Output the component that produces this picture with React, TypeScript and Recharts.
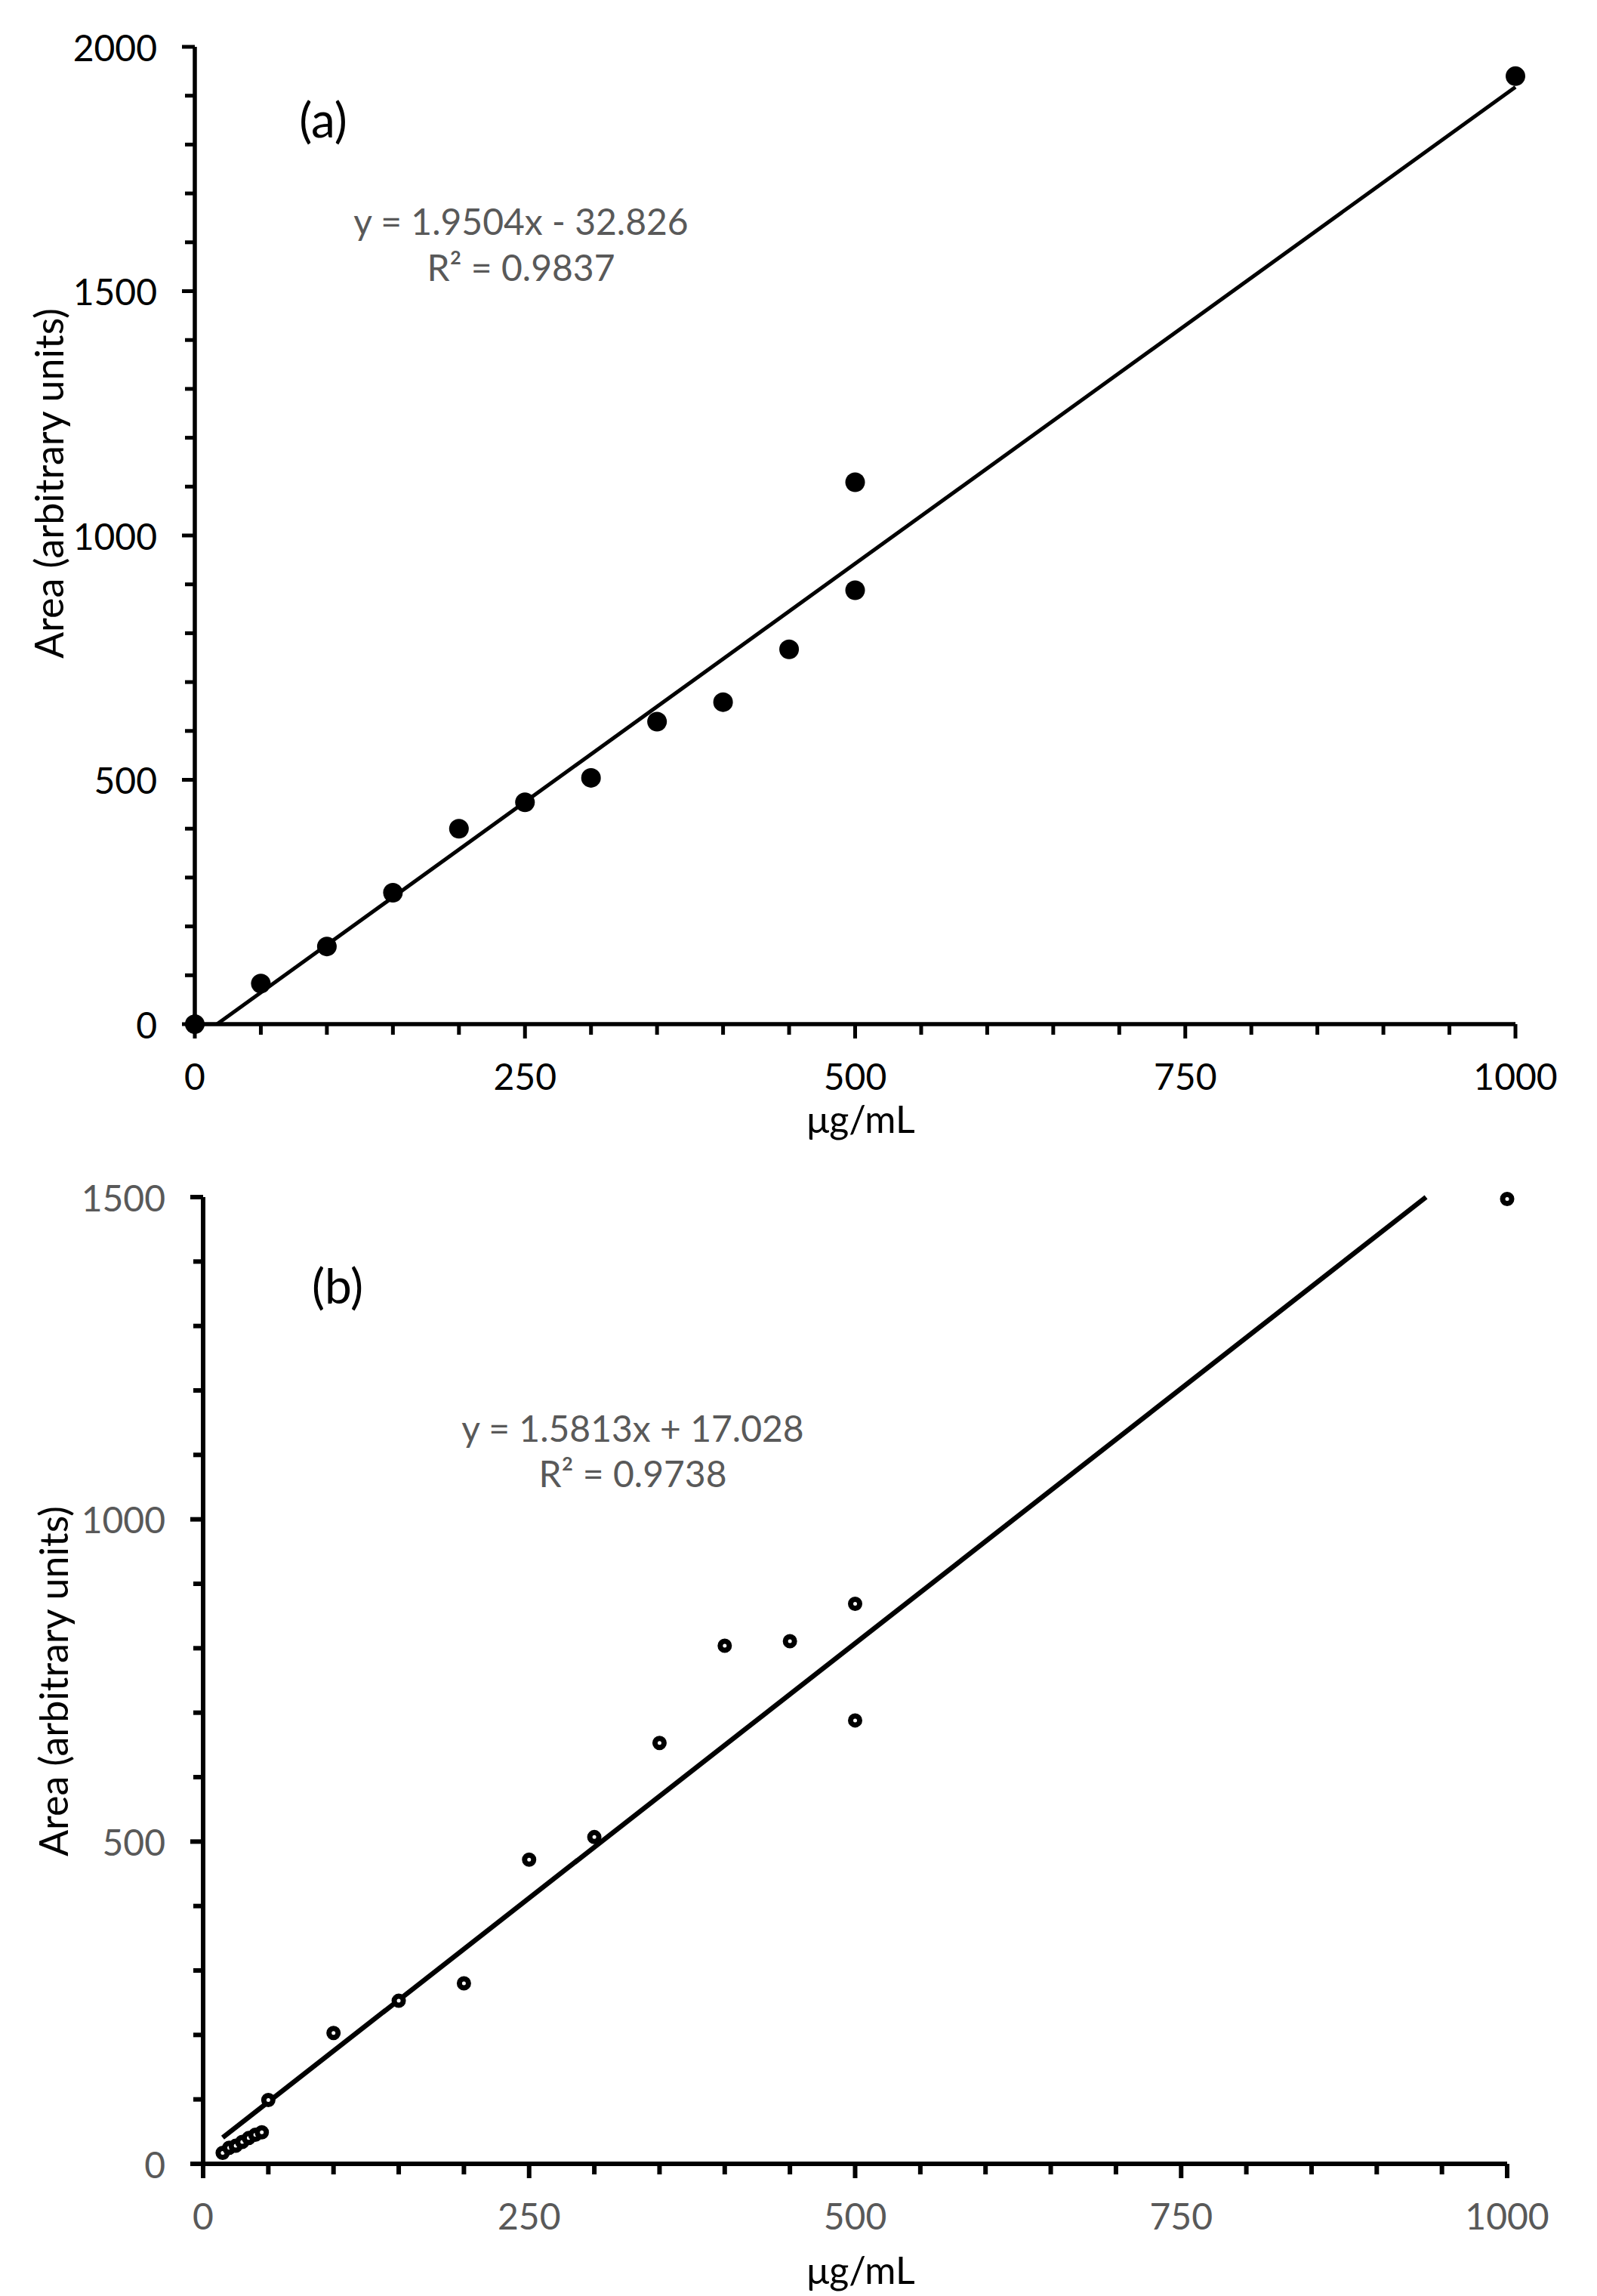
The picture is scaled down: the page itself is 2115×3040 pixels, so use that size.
import React from "react";
import { ScatterChart, Scatter, XAxis, YAxis } from "recharts";

// panel (a): filled points
const concA = [0, 50, 100, 150, 200, 250, 300, 350, 400, 450, 500, 500, 1000];
const areaA = [0, 83, 159, 269, 400, 454, 504, 619, 659, 767, 1109, 888, 1940];
// Excel trendline end points (y = 1.9504x - 32.826, clipped at y = 0)
const trendConcA = [16.8, 1000];
const trendAreaA = [0, 1917.6];

// panel (b): hollow points
const concB = [15, 20, 25, 30, 35, 40, 45, 50, 100, 150, 200, 250, 300, 350, 400, 450, 500, 500, 1000];
const areaB = [17, 25, 28, 34, 40, 45, 49, 99, 203, 253, 280, 472, 507, 653, 804, 811, 869, 688, 1497];
// trendline y = 1.5813x + 17.028, clipped at the top of the axis
const trendConcB = [15, 937.8];
const trendAreaB = [40.7, 1500];

const xTicks = [0, 50, 100, 150, 200, 250, 300, 350, 400, 450, 500, 550, 600, 650, 700, 750, 800, 850, 900, 950, 1000];
const xLabels = [0, 250, 500, 750, 1000];
const yTicksA = [0, 100, 200, 300, 400, 500, 600, 700, 800, 900, 1000, 1100, 1200, 1300, 1400, 1500, 1600, 1700, 1800, 1900, 2000];
const yLabelsA = [0, 500, 1000, 1500, 2000];
const yTicksB = [0, 100, 200, 300, 400, 500, 600, 700, 800, 900, 1000, 1100, 1200, 1300, 1400, 1500];
const yLabelsB = [0, 500, 1000, 1500];

const FONT = "Lato, 'Open Sans', sans-serif";
const zip = (xs: number[], ys: number[]) => xs.map((x, i) => ({ x, y: ys[i] }));

function yTick(labels: number[], color: string, sw: number) {
  return (props: any) => {
    const { x, y, payload } = props;
    const major = labels.includes(payload.value);
    return (
      <g>
        <line x1={x - (major ? 17 : 13)} x2={x} y1={y} y2={y} stroke="#000" strokeWidth={sw} />
        {major && (
          <text x={x - 50} y={y} textAnchor="end" dominantBaseline="central" fill={color} fontSize={48} fontFamily={FONT}>
            {payload.value}
          </text>
        )}
      </g>
    );
  };
}

function xTick(labels: number[], color: string, sw: number) {
  return (props: any) => {
    const { x, y, payload } = props;
    const major = labels.includes(payload.value);
    return (
      <g>
        <line x1={x} x2={x} y1={y} y2={y + (major ? 19 : 14)} stroke="#000" strokeWidth={sw} />
        {major && (
          <text x={x} y={y + 68} textAnchor="middle" dominantBaseline="central" fill={color} fontSize={48} fontFamily={FONT}>
            {payload.value}
          </text>
        )}
      </g>
    );
  };
}

const Overlay = ({ x, y, size = 48, color = "#000", rotate = false, children }: any) => (
  <div
    style={{
      position: "absolute",
      left: x,
      top: y,
      transform: `translate(-50%, -50%)${rotate ? " rotate(-90deg)" : ""}`,
      whiteSpace: "nowrap",
      fontSize: size,
      lineHeight: 1,
      color,
      fontFamily: FONT,
    }}
  >
    {children}
  </div>
);

export default function App() {
  return (
    <div style={{ position: "absolute", left: 0, top: 0, width: 2115, height: 3040, background: "#fff", fontFamily: FONT }}>
      {/* (a) */}
      <div style={{ position: "absolute", left: 0, top: 0 }}>
        <ScatterChart width={2115} height={1520} margin={{ top: 62, right: 108, left: 0, bottom: 44 }}>
          <XAxis
            type="number"
            dataKey="x"
            domain={[0, 1000]}
            ticks={xTicks}
            interval={0}
            height={120}
            tickSize={0}
            tickMargin={0}
            axisLine={{ stroke: "#000", strokeWidth: 5.5 }}
            tickLine={false}
            tick={xTick(xLabels, "#000", 5)}
          />
          <YAxis
            type="number"
            dataKey="y"
            domain={[0, 2000]}
            ticks={yTicksA}
            interval={0}
            width={258}
            tickSize={0}
            tickMargin={0}
            axisLine={{ stroke: "#000", strokeWidth: 5.5 }}
            tickLine={false}
            tick={yTick(yLabelsA, "#000", 5)}
          />
          <Scatter
            data={zip(trendConcA, trendAreaA)}
            line={{ stroke: "#000", strokeWidth: 5 }}
            lineType="joint"
            shape={() => <g />}
            isAnimationActive={false}
          />
          <Scatter
            data={zip(concA, areaA)}
            shape={(p: any) => <circle cx={p.cx} cy={p.cy} r={13} fill="#000" />}
            isAnimationActive={false}
          />
        </ScatterChart>
      </div>
      <Overlay x={428} y={158} size={64}>(a)</Overlay>
      <Overlay x={690} y={293} color="#595959">y = 1.9504x - 32.826</Overlay>
      <Overlay x={690} y={354} color="#595959">R² = 0.9837</Overlay>
      <Overlay x={64} y={640} size={52} rotate>Area (arbitrary units)</Overlay>
      <Overlay x={1140} y={1481} size={50}>μg/mL</Overlay>

      {/* (b) */}
      <div style={{ position: "absolute", left: 0, top: 1520 }}>
        <ScatterChart width={2115} height={1520} margin={{ top: 65, right: 119, left: 0, bottom: 55 }}>
          <XAxis
            type="number"
            dataKey="x"
            domain={[0, 1000]}
            ticks={xTicks}
            interval={0}
            height={120}
            tickSize={0}
            tickMargin={0}
            axisLine={{ stroke: "#000", strokeWidth: 6 }}
            tickLine={false}
            tick={xTick(xLabels, "#595959", 6)}
          />
          <YAxis
            type="number"
            dataKey="y"
            domain={[0, 1500]}
            ticks={yTicksB}
            interval={0}
            width={269}
            tickSize={0}
            tickMargin={0}
            axisLine={{ stroke: "#000", strokeWidth: 6 }}
            tickLine={false}
            tick={yTick(yLabelsB, "#595959", 6)}
          />
          <Scatter
            data={zip(trendConcB, trendAreaB)}
            line={{ stroke: "#000", strokeWidth: 6.5 }}
            lineType="joint"
            shape={() => <g />}
            isAnimationActive={false}
          />
          <Scatter
            data={zip(concB, areaB)}
            shape={(p: any) => <circle cx={p.cx} cy={p.cy} r={6} fill="#fff" stroke="#000" strokeWidth={7} />}
            isAnimationActive={false}
          />
        </ScatterChart>
      </div>
      <Overlay x={447} y={1702} size={64}>(b)</Overlay>
      <Overlay x={838} y={1891} color="#595959">y = 1.5813x + 17.028</Overlay>
      <Overlay x={838} y={1951} color="#595959">R² = 0.9738</Overlay>
      <Overlay x={70} y={2226} size={52} rotate>Area (arbitrary units)</Overlay>
      <Overlay x={1140} y={3005} size={50}>μg/mL</Overlay>
    </div>
  );
}
